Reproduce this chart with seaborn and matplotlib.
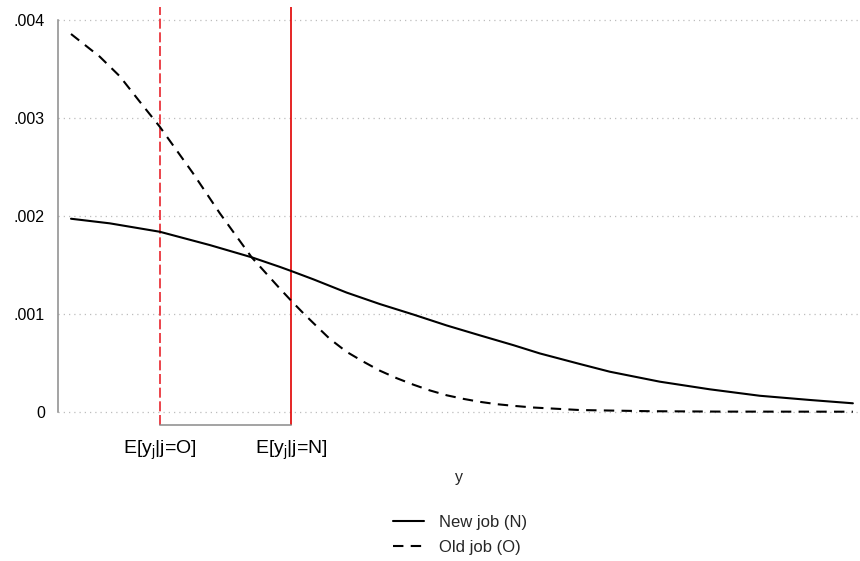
import matplotlib
matplotlib.use("Agg")
import matplotlib.pyplot as plt
import seaborn as sns
import pandas as pd
import numpy as np

# ---- data ----
x_new = [0, 62, 142, 222, 289, 334, 353, 388, 441, 494, 548, 601, 654, 708, 750, 814, 862, 942,
         1022, 1102, 1182, 1251]
d_new = [1.973, 1.926, 1.840, 1.704, 1.579, 1.481, 1.437, 1.353, 1.218, 1.101, 0.993, 0.882, 0.781,
         0.680, 0.596, 0.488, 0.409, 0.307, 0.229, 0.163, 0.120, 0.086]  # x 1e-3
x_old = [0, 46, 78, 110, 142, 195, 238, 289, 334, 353, 372, 388, 414, 441, 468, 494, 521, 548, 574,
         601, 628, 654, 681, 708, 739, 814, 926, 1038, 1251]
d_old = [3.862, 3.63, 3.43, 3.17, 2.914, 2.44, 2.03, 1.579, 1.26, 1.13, 1.005, 0.905, 0.745, 0.612,
         0.511, 0.420, 0.343, 0.276, 0.218, 0.168, 0.131, 0.101, 0.077, 0.060, 0.043, 0.017, 0.005,
         0.001, 0.0]  # x 1e-3
mean_old = 142
mean_new = 352
ytick_vals = [0, 0.001, 0.002, 0.003, 0.004]
ytick_labels = ["0", ".001", ".002", ".003", ".004"]
xtick_labels = [r"E[$\mathrm{y_j}$|j=O]", r"E[$\mathrm{y_j}$|j=N]"]
series_labels = ["New job (N)", "Old job (O)"]

df_new = pd.DataFrame({"y": x_new, "dens": np.array(d_new) * 1e-3})
df_old = pd.DataFrame({"y": x_old, "dens": np.array(d_old) * 1e-3})

sns.set_style("white")
plt.rcParams["font.family"] = ["Liberation Sans", "DejaVu Sans"]
plt.rcParams["mathtext.fontset"] = "custom"
plt.rcParams["mathtext.rm"] = "Liberation Sans"
plt.rcParams["mathtext.it"] = "Liberation Sans:italic"

W, H = 860, 561
fig = plt.figure(figsize=(W / 100, H / 100), dpi=100)
ax = fig.add_axes([58 / W, (H - 425) / H, (860 - 58) / W, (425 - 7) / H])

grey = "#8a8a8a"
for v in ytick_vals:
    ax.axhline(v, color="#bdbdbd", lw=0.9, ls=(0, (1, 3.2)), zorder=0)

red = "#e8242c"
ax.axvline(mean_old, color=red, lw=1.2, ls=(0, (6, 2.2)), zorder=1)
ax.axvline(mean_new, color="#e00000", lw=1.2, zorder=1)

sns.lineplot(data=df_new, x="y", y="dens", ax=ax, color="black", lw=1.5, label=series_labels[0],
             legend=False, zorder=3)
sns.lineplot(data=df_old, x="y", y="dens", ax=ax, color="black", lw=1.5, ls=(0, (5, 3.5)),
             label=series_labels[1], legend=False, zorder=3)

ax.set_xlim(-20.8, 1262.4)
ax.set_ylim(-0.136e-3, 4.138e-3)

for s in ["top", "right"]:
    ax.spines[s].set_visible(False)
ax.spines["left"].set_bounds(0, 0.004)
ax.spines["bottom"].set_bounds(mean_old, mean_new)
for s in ["left", "bottom"]:
    ax.spines[s].set_color(grey)
    ax.spines[s].set_linewidth(1.1)

ax.set_yticks(ytick_vals)
ax.set_yticklabels(ytick_labels)
ax.set_xticks([mean_old, mean_new])
ax.set_xticklabels(xtick_labels)
ax.tick_params(axis="y", length=6.5, width=1.1, color=grey, pad=3, labelsize=11.5, labelcolor="black")
ax.tick_params(axis="x", length=5.8, width=1.1, color=grey, pad=4, labelsize=14, labelcolor="black")
ax.set_xlabel("y", fontsize=11.5, labelpad=6)
ax.set_ylabel("")

handles, labels = ax.get_legend_handles_labels()
fig.legend(handles, labels, loc="center", bbox_to_anchor=(460 / W, 1 - 535 / H), frameon=False,
           fontsize=12, handlelength=1.9, handletextpad=0.9, labelspacing=0.6)

fig.savefig("out.png", dpi=100)
